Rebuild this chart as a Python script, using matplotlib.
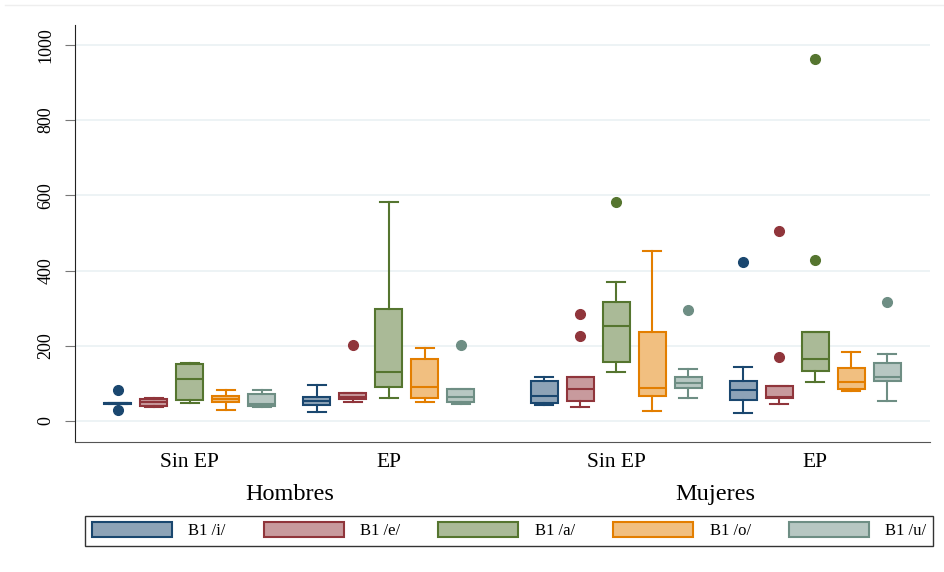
import numpy as np
import matplotlib
matplotlib.use("Agg")
import matplotlib.pyplot as plt
from matplotlib.patches import Patch
from matplotlib.lines import Line2D

plt.rcParams['font.family'] = ['Liberation Serif', 'DejaVu Serif']

# categorías
vowels = ['B1 /i/', 'B1 /e/', 'B1 /a/', 'B1 /o/', 'B1 /u/']
groups = ['Sin EP', 'EP', 'Sin EP', 'EP']
sexes = ['Hombres', 'Mujeres']

# resumen de cada caja: filas = grupo, columnas = vocal (i, e, a, o, u)
q1 = [[46, 40, 56, 50, 39],
      [43, 58, 89, 62, 51],
      [47, 54, 156, 67, 87],
      [56, 60, 134, 84, 106]]
med = [[47, 50, 111, 59, 45],
       [54, 64, 131, 89, 63],
       [67, 85, 253, 87, 100],
       [83, 65, 165, 104, 118]]
q3 = [[48, 59, 151, 67, 72],
      [65, 74, 299, 164, 84],
      [105, 116, 316, 236, 118],
      [105, 93, 236, 141, 154]]
whislo = [[46, 38, 49, 29, 37],
          [25, 51, 62, 51, 44],
          [42, 38, 131, 26, 60],
          [21, 46, 104, 79, 54]]
whishi = [[48, 61, 153, 81, 81],
          [96, 74, 582, 193, 84],
          [118, 116, 369, 451, 137],
          [143, 93, 236, 184, 179]]
fliers = [[[82, 28], [], [], [], []],
          [[], [202], [], [], [202]],
          [[], [284, 227], [582], [], [294]],
          [[423], [506, 171], [429, 962], [], [315]]]

edge_colors = ['#1a476f', '#90353b', '#55752f', '#e37e00', '#6e8e84']


def lighten(c, f=0.5):
    rgb = np.array(matplotlib.colors.to_rgb(c))
    return tuple(rgb + (1 - rgb) * f)


fig = plt.figure(figsize=(9.44, 5.72), dpi=100)
ax = fig.add_axes([75 / 944, 1 - 442 / 572, 855 / 944, 417 / 572])

# posiciones de las cajas
group_centers = np.array([3.19, 8.72, 15.03, 20.56])
offsets = np.arange(5) - 2

for j, col in enumerate(edge_colors):
    stats = []
    for g in range(len(groups)):
        stats.append(dict(q1=q1[g][j], med=med[g][j], q3=q3[g][j],
                          whislo=whislo[g][j], whishi=whishi[g][j],
                          fliers=fliers[g][j]))
    ax.bxp(stats, positions=group_centers + offsets[j], widths=0.75,
           capwidths=0.5, patch_artist=True, manage_ticks=False,
           boxprops=dict(facecolor=lighten(col), edgecolor=col, linewidth=1.5),
           medianprops=dict(color=col, linewidth=1.5),
           whiskerprops=dict(color=col, linewidth=1.5),
           capprops=dict(color=col, linewidth=1.5),
           flierprops=dict(marker='o', markerfacecolor=col, markeredgecolor=col,
                           markersize=7), zorder=3)

ax.set_xlim(0, 23.75)
ax.set_ylim(-56, 1053)
ax.set_yticks([0, 200, 400, 600, 800, 1000])
ax.grid(axis='y', color='#eaf1f3', linewidth=1.2, zorder=0)
ax.set_axisbelow(True)
ax.set_xticks([])
ax.tick_params(axis='y', labelrotation=90, labelsize=13, length=7,
               color='#777777', pad=8)
for lab in ax.get_yticklabels():
    lab.set_va('center')

for s in ['top', 'right']:
    ax.spines[s].set_visible(False)
ax.spines['left'].set_color('#222222')
ax.spines['bottom'].set_color('#555555')

# etiquetas de grupo y de sexo
trans = ax.get_xaxis_transform()
for c, g in zip(group_centers, groups):
    ax.text(c, -0.048, g, transform=trans, ha='center', va='center',
            fontsize=15.5)
for k, s in enumerate(sexes):
    ax.text(group_centers[2 * k:2 * k + 2].mean(), -0.127, s, transform=trans,
            ha='center', va='center', fontsize=17.5)

# línea superior del área del gráfico
fig.add_artist(Line2D([5 / 944, 1], [1 - 5 / 572, 1 - 5 / 572],
                      color='#eeeeee', linewidth=1))

handles = [Patch(facecolor=lighten(c), edgecolor=c, linewidth=1.5)
           for c in edge_colors]
leg = fig.legend(handles, vowels, ncol=5, mode='expand',
                 bbox_to_anchor=(85 / 944, 26 / 572, 848 / 944, 33 / 572),
                 loc='lower left', fontsize=12, handlelength=4.8,
                 handleheight=1.0, handletextpad=1.0, borderaxespad=0,
                 fancybox=False, framealpha=1, edgecolor='#333333')
leg.get_frame().set_linewidth(1)

fig.savefig('out.png', dpi=100)
